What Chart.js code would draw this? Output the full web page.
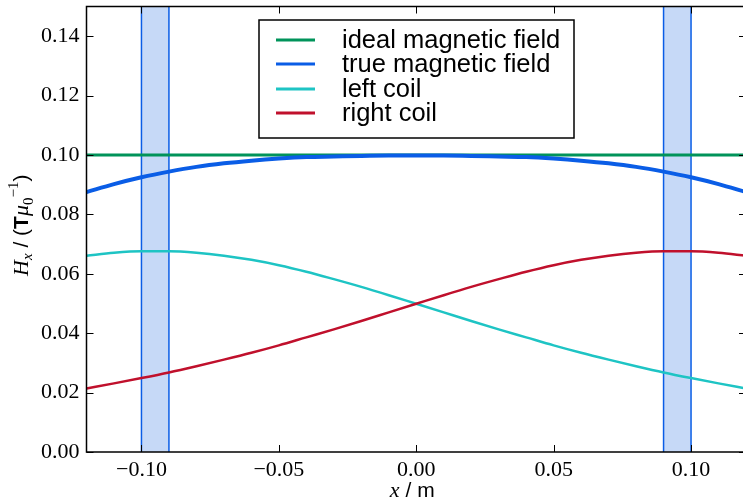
<!DOCTYPE html>
<html>
<head>
<meta charset="utf-8">
<script src="https://cdn.jsdelivr.net/npm/chart.js@4.4.1/dist/chart.umd.min.js"></script>
<style>
    body { margin: 0; overflow: hidden; background: #fff; }
    #caja { width: 747px; height: 502px; }
</style>
</head>
<body>
<div id="caja"><canvas id="myChart" width="747" height="502"></canvas></div>
<script>
// datos
const xValues = [-0.12, -0.11, -0.10, -0.09, -0.08, -0.07, -0.06, -0.05, -0.04, -0.03, -0.02, -0.01, 0.00,
    0.01, 0.02, 0.03, 0.04, 0.05, 0.06, 0.07, 0.08, 0.09, 0.10, 0.11, 0.12];
const idealField = [0.1, 0.1, 0.1, 0.1, 0.1, 0.1, 0.1, 0.1, 0.1, 0.1, 0.1, 0.1, 0.1,
    0.1, 0.1, 0.1, 0.1, 0.1, 0.1, 0.1, 0.1, 0.1, 0.1, 0.1, 0.1];
const trueField = [0.0875, 0.0902, 0.0925, 0.0944, 0.0960, 0.0972, 0.0981, 0.0988, 0.0993, 0.0995, 0.0997, 0.0998, 0.0998,
    0.0998, 0.0997, 0.0995, 0.0993, 0.0988, 0.0981, 0.0972, 0.0960, 0.0944, 0.0925, 0.0902, 0.0875];
const leftCoil = [0.0661, 0.0671, 0.0676, 0.0676, 0.0671, 0.0661, 0.0647, 0.0629, 0.0607, 0.0582, 0.0556, 0.0528, 0.0499,
    0.0470, 0.0441, 0.0413, 0.0386, 0.0359, 0.0334, 0.0311, 0.0289, 0.0268, 0.0249, 0.0231, 0.0214];
const rightCoil = [0.0214, 0.0231, 0.0249, 0.0268, 0.0289, 0.0311, 0.0334, 0.0359, 0.0386, 0.0413, 0.0441, 0.0470, 0.0499,
    0.0528, 0.0556, 0.0582, 0.0607, 0.0629, 0.0647, 0.0661, 0.0671, 0.0676, 0.0676, 0.0671, 0.0661];
const coilBands = [[-0.10, -0.09], [0.09, 0.10]];
const xTicks = [-0.10, -0.05, 0.00, 0.05, 0.10];
const yTicks = [0.00, 0.02, 0.04, 0.06, 0.08, 0.10, 0.12, 0.14];
const seriesNames = ['ideal magnetic field', 'true magnetic field', 'left coil', 'right coil'];

const SERIF = '"Liberation Serif", "DejaVu Serif", serif';
const SANS = '"Liberation Sans", Arial, sans-serif';

const puntos = (ys) => xValues.map((x, i) => ({ x: x, y: ys[i] }));
const fmt = (v) => {
    if (Math.abs(v) < 1e-9) return '0.00';
    return v.toFixed(2).replace('-', '\u2212');
};

// franjas de las bobinas
const bandas = {
    id: 'bandas',
    beforeDatasetsDraw(chart) {
        const { ctx, chartArea, scales } = chart;
        ctx.save();
        coilBands.forEach(b => {
            const x1 = scales.x.getPixelForValue(b[0]);
            const x2 = scales.x.getPixelForValue(b[1]);
            ctx.fillStyle = '#c6d9f7';
            ctx.fillRect(x1, chartArea.top, x2 - x1, chartArea.bottom - chartArea.top);
            ctx.strokeStyle = '#0a5de6';
            ctx.lineWidth = 1.5;
            [x1, x2].forEach(px => {
                ctx.beginPath();
                ctx.moveTo(px, chartArea.top);
                ctx.lineTo(px, chartArea.bottom);
                ctx.stroke();
            });
        });
        ctx.restore();
    }
};

// texto con partes de distinta fuente
const dibujarPartes = (ctx, partes, cx, cy) => {
    let total = 0;
    partes.forEach(p => { ctx.font = p.font; total += ctx.measureText(p.t).width; });
    let x = cx - total / 2;
    partes.forEach(p => {
        ctx.font = p.font;
        ctx.fillText(p.t, x, cy + (p.dy || 0));
        x += ctx.measureText(p.t).width;
    });
};

// marco, ticks hacia adentro, titulos y leyenda
const marco = {
    id: 'marco',
    afterDraw(chart) {
        const { ctx, chartArea, scales } = chart;
        const a = chartArea;
        ctx.save();
        ctx.strokeStyle = '#000';
        ctx.lineWidth = 1;
        scales.y.ticks.forEach(t => {
            const py = Math.round(scales.y.getPixelForValue(t.value)) + 0.5;
            ctx.beginPath();
            ctx.moveTo(a.left, py); ctx.lineTo(a.left + 7, py);
            ctx.moveTo(a.right, py); ctx.lineTo(a.right - 7, py);
            ctx.stroke();
        });
        scales.x.ticks.forEach(t => {
            const px = Math.round(scales.x.getPixelForValue(t.value)) + 0.5;
            ctx.beginPath();
            ctx.moveTo(px, a.bottom); ctx.lineTo(px, a.bottom - 7);
            ctx.moveTo(px, a.top); ctx.lineTo(px, a.top + 7);
            ctx.stroke();
        });
        ctx.lineWidth = 1.5;
        ctx.strokeRect(a.left, a.top, a.right - a.left, a.bottom - a.top);

        // titulos de ejes
        ctx.fillStyle = '#000';
        ctx.textBaseline = 'alphabetic';
        dibujarPartes(ctx, [
            { t: 'x', font: 'italic 22px ' + SERIF },
            { t: ' / m', font: '21px ' + SANS }
        ], (a.left + a.right) / 2 - 4, 497);

        ctx.save();
        ctx.translate(28, (a.top + a.bottom) / 2 - 4);
        ctx.rotate(-Math.PI / 2);
        dibujarPartes(ctx, [
            { t: 'H', font: 'italic 22px ' + SERIF },
            { t: 'x', font: 'italic 15px ' + SERIF, dy: 4 },
            { t: ' / (', font: '21px ' + SANS },
            { t: 'T', font: 'bold 21px ' + SANS },
            { t: 'μ', font: 'italic 22px ' + SERIF },
            { t: '0', font: '15px ' + SERIF, dy: 5 },
            { t: '\u22121', font: '15px ' + SERIF, dy: -10 },
            { t: ')', font: '21px ' + SANS }
        ], 0, 0);
        ctx.restore();

        // leyenda
        ctx.fillStyle = '#fff';
        ctx.fillRect(259, 20, 315, 118);
        ctx.strokeStyle = '#000';
        ctx.lineWidth = 1.5;
        ctx.strokeRect(259, 20, 315, 118);
        const filas = [40, 64, 89, 113];
        chart.data.datasets.forEach((ds, i) => {
            ctx.strokeStyle = ds.borderColor;
            ctx.lineWidth = 3;
            ctx.beginPath();
            ctx.moveTo(276, filas[i]);
            ctx.lineTo(315, filas[i]);
            ctx.stroke();
            ctx.fillStyle = '#000';
            ctx.font = '25.5px ' + SANS;
            ctx.textBaseline = 'middle';
            ctx.fillText(ds.label, 342, filas[i] + 1);
        });
        ctx.restore();
    }
};

const ctx1 = document.getElementById('myChart').getContext('2d');
const myChart = new Chart(ctx1, {
    type: 'line',
    data: {
        datasets: [{
            label: seriesNames[0],
            data: puntos(idealField),
            borderColor: '#00935a',
            borderWidth: 3,
            order: 4
        }, {
            label: seriesNames[1],
            data: puntos(trueField),
            borderColor: '#0a5de6',
            borderWidth: 4,
            order: 3
        }, {
            label: seriesNames[2],
            data: puntos(leftCoil),
            borderColor: '#1ec4c4',
            borderWidth: 2.5,
            order: 2
        }, {
            label: seriesNames[3],
            data: puntos(rightCoil),
            borderColor: '#c0102c',
            borderWidth: 2.5,
            order: 1
        }]
    },
    options: {
        responsive: false,
        animation: false,
        layout: { padding: { top: 6.5, right: 1, left: 0, bottom: 0 } },
        elements: {
            point: { radius: 0 },
            line: { tension: 0.4, cubicInterpolationMode: 'monotone' }
        },
        plugins: {
            legend: { display: false },
            tooltip: { enabled: false }
        },
        scales: {
            x: {
                type: 'linear',
                min: -0.12,
                max: 0.12,
                afterBuildTicks: (s) => { s.ticks = xTicks.map(v => ({ value: v })); },
                afterFit: (s) => { s.height = 50; s.paddingLeft = 0; s.paddingRight = 0; },
                grid: { display: false, drawTicks: false },
                border: { display: false },
                ticks: {
                    color: '#000',
                    font: { family: SERIF, size: 22 },
                    padding: 5,
                    maxRotation: 0,
                    callback: (v) => fmt(v)
                }
            },
            y: {
                min: 0,
                max: 0.15,
                afterBuildTicks: (s) => { s.ticks = yTicks.map(v => ({ value: v })); },
                afterFit: (s) => { s.width = 86.5; s.paddingTop = 0; s.paddingBottom = 0; },
                grid: { display: false, drawTicks: false },
                border: { display: false },
                ticks: {
                    color: '#000',
                    font: { family: SERIF, size: 22 },
                    padding: 7,
                    callback: (v) => fmt(v)
                }
            }
        }
    },
    plugins: [bandas, marco]
});
</script>
</body>
</html>
